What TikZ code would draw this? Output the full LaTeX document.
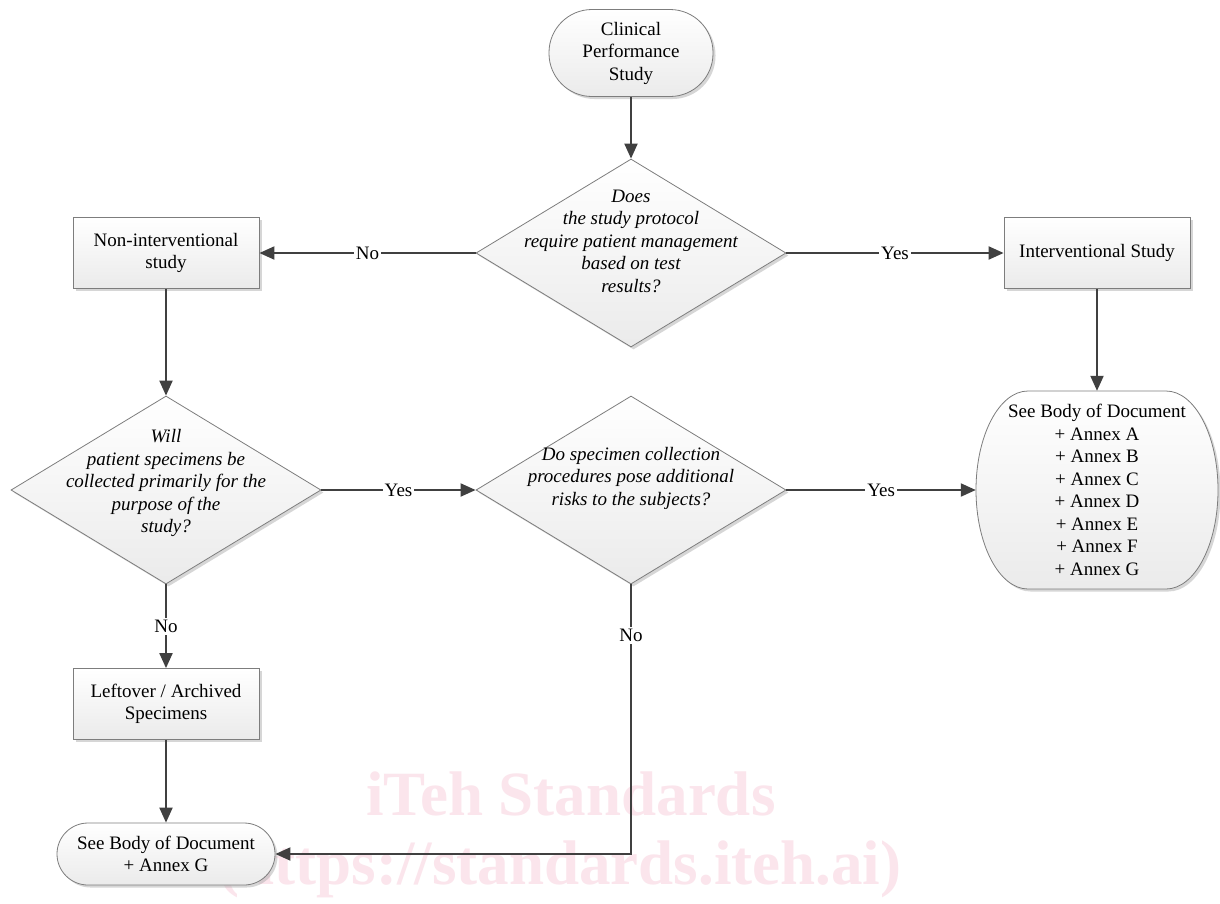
\documentclass[tikz,border=0pt]{standalone}
\usepackage{fontspec}
\setmainfont{Liberation Serif}
\usetikzlibrary{shapes.geometric,arrows.meta,shadows,positioning}
\definecolor{wmpink}{RGB}{251,229,236}
\definecolor{edgegray}{RGB}{125,125,125}
\definecolor{flowgray}{RGB}{64,64,64}
\tikzset{
	shapebase/.style={draw=edgegray, line width=0.8pt, top color=white, bottom color=black!8,
		drop shadow={shadow xshift=2.5pt, shadow yshift=-2.5pt, fill=black!35, opacity=0.45},
		font=\fontsize{19}{22.5}\selectfont, align=center, inner sep=0pt},
	procbox/.style={shapebase, rectangle, minimum width=186pt, minimum height=71pt},
	terminal/.style={shapebase, rectangle, rounded corners=#1},
	decision/.style={shapebase, diamond, minimum width=310pt, minimum height=188pt},
	qtext/.style={font=\fontsize{19}{22.5}\selectfont\itshape, align=center},
	flow/.style={draw=flowgray, line width=2pt, -{Triangle[length=15pt,width=13pt]}},
	flowlbl/.style={fill=white, inner sep=2pt, font=\fontsize{19}{22.5}\selectfont},
	wmark/.style={text=wmpink, font=\fontsize{63}{70}\selectfont\bfseries, anchor=base}
}
\begin{document}
\begin{tikzpicture}[x=1pt, y=-1pt]
		\path[use as bounding box, fill=white] (0,0) rectangle (1220,903);
		% watermark
		\node[wmark] (wm1) at (571,815) {iTeh Standards};
		\node[wmark] (wm2) at (560,884) {(https://standards.iteh.ai)};
		% boxes
		\node[terminal=43pt, minimum width=164pt, minimum height=87pt] (start) at (631,53) {Clinical\\Performance\\Study};
		\node[decision, label={[qtext, yshift=12pt]center:{Does\\the study protocol\\require patient management\\based on test\\results?}}] (q1) at (631,253) {};
		\node[procbox] (nonint) at (166,253) {Non-interventional\\study};
		\node[procbox] (intv) at (1097,253) {Interventional Study};
		\node[decision, label={[qtext, yshift=7pt]center:{Will\\patient specimens be\\collected primarily for the\\purpose of the\\study?}}] (q2) at (166,490) {};
		\node[decision, label={[qtext, yshift=12pt]center:{Do specimen collection\\procedures pose additional\\risks to the subjects?}}] (q3) at (631,490) {};
		\node[procbox] (left) at (166,704) {Leftover / Archived\\Specimens};
		\node[terminal=31pt, minimum width=218pt, minimum height=62pt] (endg) at (166,854) {See Body of Document\\+ Annex G};
		% outcome with elliptic ends
		\path[shapebase] (1028,391) -- (1166,391) arc[start angle=90, end angle=-90, x radius=52pt, y radius=99pt]
			-- (1028,589) arc[start angle=270, end angle=90, x radius=52pt, y radius=99pt] -- cycle;
		\node[font=\fontsize{19}{22.5}\selectfont, align=center, minimum width=242pt, minimum height=198pt, inner sep=0pt] (res) at (1097,490)
			{See Body of Document\\+ Annex A\\+ Annex B\\+ Annex C\\+ Annex D\\+ Annex E\\+ Annex F\\+ Annex G};
		% connectors
		\draw[flow] (start.south) -- (q1.north);
		\draw[flow] (q1.west) -- node[flowlbl] {No} (nonint.east);
		\draw[flow] (q1.east) -- node[flowlbl] {Yes} (intv.west);
		\draw[flow] (intv.south) -- (res.north);
		\draw[flow] (nonint.south) -- (q2.north);
		\draw[flow] (q2.east) -- node[flowlbl] {Yes} (q3.west);
		\draw[flow] (q3.east) -- node[flowlbl] {Yes} (res.west);
		\draw[flow] (q2.south) -- node[flowlbl] {No} (left.north);
		\draw[flow] (left.south) -- (endg.north);
		\draw[flow] (q3.south) -- node[flowlbl, pos=0.19] {No} (q3.south |- endg.east) -- (endg.east);
	\end{tikzpicture}
\end{document}
